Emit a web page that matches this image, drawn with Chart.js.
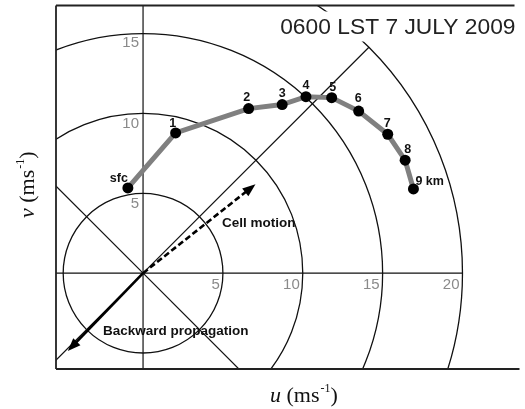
<!DOCTYPE html>
<html>
<head>
<meta charset="utf-8">
<script src="https://cdn.jsdelivr.net/npm/chart.js@4/dist/chart.umd.min.js"></script>
<style>
  html, body { margin: 0; padding: 0; background: #fff; }
  #wrap { width: 525px; height: 409px; }
</style>
</head>
<body>
<div id="wrap"><canvas id="hodo" width="525" height="409"></canvas></div>
<script>
// Hodograph, 0600 LST 7 July 2009: wind components (m/s) from the surface to 9 km
const heights = ['sfc', '1', '2', '3', '4', '5', '6', '7', '8', '9 km'];
const uWind = [-0.95, 2.04, 6.61, 8.71, 10.2, 11.81, 13.5, 15.32, 16.41, 16.93];
const vWind = [5.28, 8.69, 10.2, 10.45, 10.94, 10.88, 10.05, 8.61, 7.0, 5.22];

// speed rings and their tick labels
const ringSpeeds = [5, 10, 15, 20];
const ringLabels = ['5', '10', '15', '20'];

// storm vectors (u, v)
const cellMotion = [7.04, 5.51];
const backwardPropagation = [-4.71, -4.83];

const titleText = '0600 LST 7 JULY 2009';

const SANS = '"Liberation Sans", Arial, Helvetica, sans-serif';
const SERIF = '"Liberation Serif", "Times New Roman", serif';

// label placement per level: [dx, dy, align]
const labelPlace = {
  'sfc': [0, -6, 'right'],
  '1': [-3, -6, 'center'],
  '2': [-2, -8, 'center'],
  '3': [0, -8, 'center'],
  '4': [0, -8, 'center'],
  '5': [1, -7, 'center'],
  '6': [-0.5, -9, 'center'],
  '7': [-0.5, -7, 'center'],
  '8': [2.5, -7, 'center'],
  '9 km': [2, -4, 'left']
};

function drawArrow(ctx, x0, y0, x1, y1, dashed) {
  const ang = Math.atan2(y1 - y0, x1 - x0);
  const headLen = 13, headHalf = 5;
  const bx = x1 - headLen * Math.cos(ang), by = y1 - headLen * Math.sin(ang);
  ctx.save();
  ctx.strokeStyle = '#000';
  ctx.fillStyle = '#000';
  ctx.lineWidth = 2.6;
  if (dashed) ctx.setLineDash([6, 3]);
  ctx.beginPath();
  ctx.moveTo(x0, y0);
  ctx.lineTo(bx + 2 * Math.cos(ang), by + 2 * Math.sin(ang));
  ctx.stroke();
  ctx.setLineDash([]);
  ctx.beginPath();
  ctx.moveTo(x1, y1);
  ctx.lineTo(bx - headHalf * Math.sin(ang), by + headHalf * Math.cos(ang));
  ctx.lineTo(bx + headHalf * Math.sin(ang), by - headHalf * Math.cos(ang));
  ctx.closePath();
  ctx.fill();
  ctx.restore();
}

const hodographPlugin = {
  id: 'hodograph',
  beforeDatasetsDraw(chart) {
    const { ctx, chartArea: a, scales: { x, y } } = chart;
    const ox = x.getPixelForValue(0), oy = y.getPixelForValue(0);
    const pxPerUnit = x.getPixelForValue(1) - ox;
    const outerR = ringSpeeds[ringSpeeds.length - 1] * pxPerUnit;

    ctx.save();
    ctx.beginPath();
    ctx.rect(a.left, a.top, a.right - a.left, a.bottom - a.top);
    ctx.clip();

    // speed rings
    ctx.strokeStyle = '#111';
    ctx.lineWidth = 1.3;
    ringSpeeds.forEach(s => {
      ctx.beginPath();
      ctx.arc(ox, oy, s * pxPerUnit, 0, Math.PI * 2);
      ctx.stroke();
    });

    // axes and diagonals out to the outer ring
    ctx.lineWidth = 1.2;
    for (let k = 0; k < 8; k++) {
      const t = k * Math.PI / 4;
      ctx.beginPath();
      ctx.moveTo(ox, oy);
      ctx.lineTo(ox + outerR * Math.cos(t), oy - outerR * Math.sin(t));
      ctx.stroke();
    }
    ctx.restore();

    // ring speed labels on both axes
    ctx.save();
    ctx.fillStyle = '#8a8a8a';
    ctx.font = '15px ' + SANS;
    ctx.textBaseline = 'alphabetic';
    ctx.textAlign = 'right';
    ringSpeeds.forEach((s, i) => {
      ctx.fillText(ringLabels[i], x.getPixelForValue(s) - 3, oy + 16);
      const py = y.getPixelForValue(s);
      if (py - 2 > a.top) ctx.fillText(ringLabels[i], ox - 4, py + 16);
    });
    ctx.restore();

    // frame: left, top and bottom edges
    ctx.save();
    ctx.strokeStyle = '#222';
    ctx.lineWidth = 1.8;
    ctx.beginPath();
    ctx.moveTo(a.left, a.top);
    ctx.lineTo(a.left, a.bottom);
    ctx.moveTo(a.left, a.top);
    ctx.lineTo(a.right - 5, a.top);
    ctx.moveTo(a.left, a.bottom);
    ctx.lineTo(a.right, a.bottom);
    ctx.stroke();

    // title on a white box
    ctx.font = '22.8px ' + SANS;
    ctx.textAlign = 'right';
    ctx.textBaseline = 'alphabetic';
    const tw = ctx.measureText(titleText).width;
    ctx.fillStyle = '#fff';
    ctx.fillRect(a.right - 5 - tw - 4, a.top + 6, tw + 8, 30);
    ctx.fillStyle = '#222';
    ctx.fillText(titleText, a.right - 4, a.top + 28);
    ctx.restore();

    // storm vectors
    drawArrow(ctx, ox, oy, x.getPixelForValue(cellMotion[0]), y.getPixelForValue(cellMotion[1]), true);
    drawArrow(ctx, ox, oy, x.getPixelForValue(backwardPropagation[0]), y.getPixelForValue(backwardPropagation[1]), false);

    ctx.save();
    ctx.fillStyle = '#111';
    ctx.font = 'bold 13.5px ' + SANS;
    ctx.textAlign = 'left';
    ctx.textBaseline = 'alphabetic';
    ctx.fillText('Cell motion', 222, 227);
    ctx.fillText('Backward propagation', 103, 335);
    ctx.restore();

    // axis titles
    ctx.save();
    ctx.fillStyle = '#111';
    const drawUnits = (var0, x0, y0) => {
      let cx = x0;
      ctx.font = 'italic 22px ' + SERIF;
      ctx.fillText(var0, cx, y0);
      cx += ctx.measureText(var0).width;
      ctx.font = '22px ' + SERIF;
      ctx.fillText(' (ms', cx, y0);
      cx += ctx.measureText(' (ms').width;
      ctx.font = '12px ' + SERIF;
      ctx.fillText('-1', cx + 1, y0 - 10);
      cx += ctx.measureText('-1').width + 1;
      ctx.font = '22px ' + SERIF;
      ctx.fillText(')', cx, y0);
    };
    ctx.textAlign = 'left';
    ctx.textBaseline = 'alphabetic';
    drawUnits('u', 270, 402);
    ctx.translate(34, 218);
    ctx.rotate(-Math.PI / 2);
    drawUnits('v', 0, 0);
    ctx.restore();
  },
  afterDatasetsDraw(chart) {
    const { ctx } = chart;
    const meta = chart.getDatasetMeta(0);
    ctx.save();
    ctx.fillStyle = '#111';
    ctx.font = 'bold 12.5px ' + SANS;
    ctx.textBaseline = 'alphabetic';
    meta.data.forEach((pt, i) => {
      const p = labelPlace[heights[i]];
      ctx.textAlign = p[2];
      ctx.fillText(heights[i], pt.x + p[0], pt.y + p[1]);
    });
    ctx.restore();
  }
};

new Chart(document.getElementById('hodo'), {
  type: 'line',
  data: {
    datasets: [{
      data: uWind.map((u, i) => ({ x: u, y: vWind[i] })),
      borderColor: '#808080',
      borderWidth: 5,
      pointRadius: 5.5,
      pointHoverRadius: 5.5,
      pointBackgroundColor: '#000',
      pointBorderWidth: 0,
      tension: 0,
      clip: false
    }]
  },
  options: {
    responsive: false,
    animation: false,
    events: [],
    layout: { padding: { left: 56, top: 5, right: 0, bottom: 40 } },
    plugins: { legend: { display: false }, tooltip: { enabled: false } },
    scales: {
      x: { type: 'linear', min: -5.45, max: 23.57, display: false },
      y: { type: 'linear', min: -5.94, max: 16.59, display: false }
    }
  },
  plugins: [hodographPlugin]
});
</script>
</body>
</html>
